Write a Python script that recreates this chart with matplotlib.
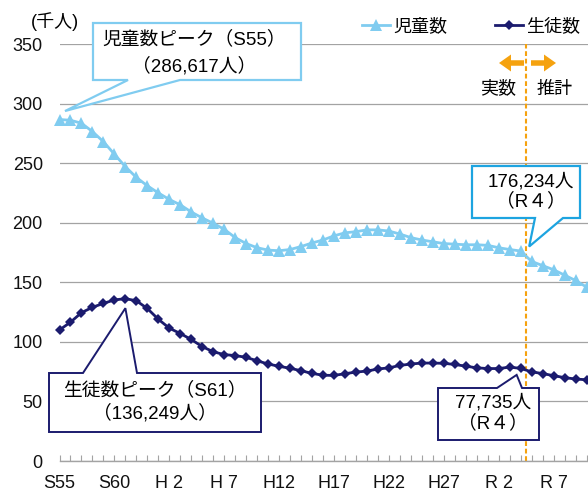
import matplotlib
matplotlib.use("Agg")
import matplotlib.pyplot as plt
import matplotlib.patches as mpatches
import matplotlib.transforms as mtransforms
from matplotlib.ticker import MultipleLocator, FixedLocator

plt.rcParams['font.family'] = ['Liberation Sans', 'Noto Sans CJK JP']

# ---- data (thousands of people) ----
years = list(range(1980, 2029))
children = [286.6, 286.0, 283.5, 276.5, 268.0, 257.5, 247.0, 238.0, 231.0, 225.0,
            219.5, 215.0, 209.0, 204.0, 199.5, 194.5, 187.5, 182.5, 179.0, 177.0,
            176.5, 177.5, 180.0, 183.0, 185.5, 189.0, 191.5, 192.5, 194.0, 194.0,
            193.0, 190.5, 187.5, 185.5, 184.0, 182.5, 182.0, 181.5, 181.5, 181.0,
            179.0, 177.5, 176.234, 167.5, 164.0, 160.5, 156.0, 151.5, 146.0]
students = [110.0, 116.5, 124.5, 129.0, 132.3, 135.2, 136.249, 134.5, 128.0, 119.0,
            111.5, 107.0, 102.0, 96.0, 91.7, 89.3, 88.5, 87.0, 84.1, 81.4,
            79.5, 77.8, 75.8, 73.5, 72.0, 71.8, 73.3, 74.6, 75.5, 77.2,
            78.2, 80.2, 81.4, 82.2, 82.2, 82.0, 81.0, 79.6, 78.2, 77.6,
            77.6, 78.8, 77.735, 74.8, 73.4, 71.6, 70.0, 68.8, 68.2]
tick_years = [1980, 1985, 1990, 1995, 2000, 2005, 2010, 2015, 2020, 2025]
tick_labels = ["S55", "S60", "H 2", "H 7", "H12", "H17", "H22", "H27", "R 2", "R 7"]
y_ticks = [0, 50, 100, 150, 200, 250, 300, 350]
split_year = 2022.5

W, H = 588, 494
C_CHILD = "#80ccf0"
C_STUD = "#1b1b6e"
C_CALL2 = "#1da4e0"
C_ORANGE = "#f5a20f"
FS = 13
FS_CALL = 13.5

fig = plt.figure(figsize=(W / 100, H / 100), dpi=100)
ax = fig.add_axes([59.5 / W, (H - 461) / H, 549 / W, 417 / H])
ax.set_xlim(1980, 2030)
ax.set_ylim(0, 350)

# pixel transform with origin at top-left of the figure
px = mtransforms.Affine2D().scale(1 / W, -1 / H).translate(0, 1) + fig.transFigure

# grid and axes
ax.set_yticks(y_ticks)
ax.yaxis.grid(True, color="#a3a3a3", lw=0.9)
ax.set_axisbelow(True)
for s in ("left", "top", "right"):
    ax.spines[s].set_visible(False)
ax.spines["bottom"].set_color("#a3a3a3")
ax.spines["bottom"].set_linewidth(1.0)
ax.tick_params(axis="y", length=0, pad=12, labelsize=FS, labelcolor="#111111")
ax.xaxis.set_major_locator(FixedLocator(tick_years))
ax.set_xticklabels(tick_labels)
ax.xaxis.set_minor_locator(MultipleLocator(1))
ax.tick_params(axis="x", which="both", direction="in", length=4, width=0.8,
               color="#a3a3a3", labelsize=FS, pad=10, labelcolor="#111111")

# series
l1, = ax.plot(years, children, color=C_CHILD, lw=2, marker="^", ms=8.5,
              markeredgewidth=0, clip_on=False, zorder=3, label="児童数")
l2, = ax.plot(years, students, color=C_STUD, lw=2, marker="D", ms=5.5,
              markeredgewidth=0, clip_on=False, zorder=3, label="生徒数")

# actual / projected divider
ax.axvline(split_year, color=C_ORANGE, lw=1.5, ls=(0, (2.3, 1.3)), zorder=2)

leg = ax.legend(handles=[l1, l2], loc="center left", ncol=2, frameon=False,
                bbox_to_anchor=(362 / W, 1 - 27 / H), bbox_transform=fig.transFigure,
                fontsize=FS, handlelength=1.55, handletextpad=0.2,
                columnspacing=2.6, borderpad=0, borderaxespad=0, numpoints=1)

fig.text(31, 22, "(千人)", transform=px, fontsize=FS, ha="left", va="center")

# arrows for actual / projected
arrow_kw = dict(width=5.5, head_width=17, head_length=12, length_includes_head=True,
                color=C_ORANGE, transform=px, lw=0)
fig.patches.append(mpatches.FancyArrow(524, 63, -25, 0, **arrow_kw))
fig.patches.append(mpatches.FancyArrow(531, 63, 25, 0, **arrow_kw))
fig.text(516, 89, "実数", transform=px, fontsize=FS, ha="right", va="center")
fig.text(537, 89, "推計", transform=px, fontsize=FS, ha="left", va="center")


def data_px(x, y):
    dx, dy = ax.transData.transform((x, y))
    return dx, H - dy


def callout(box, base, tip, side, color, lw, lines, cx, ys):
    x0, y0, x1, y1 = box
    b0, b1 = base
    tx, ty = tip
    if side == "bottom":
        verts = [(x0, y0), (x1, y0), (x1, y1), (b1, y1), (tx, ty), (b0, y1), (x0, y1)]
    else:
        verts = [(x0, y0), (b0, y0), (tx, ty), (b1, y0), (x1, y0), (x1, y1), (x0, y1)]
    poly = mpatches.Polygon(verts, closed=True, facecolor="white", edgecolor=color,
                            lw=lw, transform=px, zorder=5, joinstyle="miter")
    fig.patches.append(poly)
    for s, yy in zip(lines, ys):
        fig.text(cx, yy, s, transform=px, fontsize=FS_CALL, ha="center", va="center",
                 zorder=6)


fig.canvas.draw()

i80 = years.index(1980)
i86 = years.index(1986)
i22 = years.index(2022)

tx, ty = data_px(years[i80], children[i80])
callout((93, 23, 301, 80), (128, 180), (tx + 5.5, ty - 8.5), "bottom", C_CHILD, 1.6,
        ["児童数ピーク（S55）", "（286,617人）"], 194, [39, 66])

tx, ty = data_px(years[i22], children[i22])
callout((472, 166, 580, 218), (535, 563), (tx + 8.5, ty - 4.5), "bottom", C_CALL2, 1.6,
        ["176,234人", "（R４）"], 531, [182, 201])

tx, ty = data_px(years[i86], students[i86])
callout((49, 373, 261, 432), (83, 137), (tx, ty + 9.5), "top", C_STUD, 1.4,
        ["生徒数ピーク（S61）", "（136,249人）"], 155, [390, 413])

tx, ty = data_px(years[i22], students[i22])
callout((438, 388, 539, 440), (497, 522), (tx - 4, ty + 6.5), "top", C_STUD, 1.4,
        ["77,735人", "（R４）"], 493, [403, 423])

fig.savefig("out.png", dpi=100)
